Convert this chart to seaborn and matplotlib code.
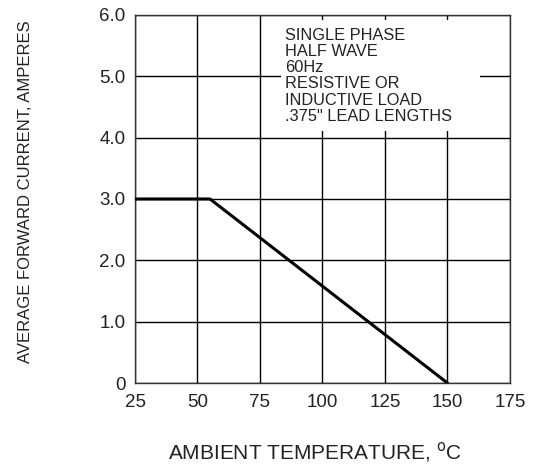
import matplotlib
matplotlib.use("Agg")
import matplotlib.pyplot as plt
from matplotlib.patches import Rectangle
import seaborn as sns
import pandas as pd

temps = [25, 55, 150]
current = [3.0, 3.0, 0.0]
x_ticks = [25, 50, 75, 100, 125, 150, 175]
y_ticks = [0, 1, 2, 3, 4, 5, 6]
y_ticklabels = ["0", "1.0", "2.0", "3.0", "4.0", "5.0", "6.0"]
note = "SINGLE PHASE\nHALF WAVE\n60Hz\nRESISTIVE OR\nINDUCTIVE LOAD\n.375\" LEAD LENGTHS"

sns.set_style("white")
plt.rcParams['font.family'] = ['Liberation Sans', 'DejaVu Sans']

fig = plt.figure(figsize=(5.37, 4.66), dpi=100)
ax = fig.add_axes([0.2514, 0.178, 0.6983, 0.79])

df = pd.DataFrame({"temp": temps, "current": current})
sns.lineplot(data=df, x="temp", y="current", ax=ax, color="black", linewidth=2.2, zorder=5)

ax.set_xlim(25, 175)
ax.set_ylim(0, 6)
ax.set_xticks(x_ticks)
ax.set_xticklabels([str(t) for t in x_ticks])
ax.set_yticks(y_ticks)
ax.set_yticklabels(y_ticklabels)
ax.grid(True, color="black", linewidth=1.0)
ax.tick_params(axis="x", length=0, labelsize=13.5, colors="#222222", pad=8)
ax.tick_params(axis="y", length=0, labelsize=13.5, colors="#222222", pad=7)
for s in ax.spines.values():
    s.set_color("#333333")
    s.set_linewidth(1.0)

ax.set_xlabel("AMBIENT TEMPERATURE, $^{\\rm o}$C", fontsize=15, color="#222222", va="center")
ax.xaxis.set_label_coords(0.48, -0.1875)
ax.set_ylabel("AVERAGE FORWARD CURRENT, AMPERES", fontsize=12.0, color="#222222", va="center")
ax.yaxis.set_label_coords(-0.293, 0.519)

ax.add_patch(Rectangle((83.5, 4.1), 79.5, 1.82, facecolor="white", edgecolor="none", zorder=4))
ax.text(85, 5.79, note, fontsize=11.8, color="#222222", va="top", ha="left", linespacing=1.1, zorder=6)

fig.savefig("out.png", dpi=100)
